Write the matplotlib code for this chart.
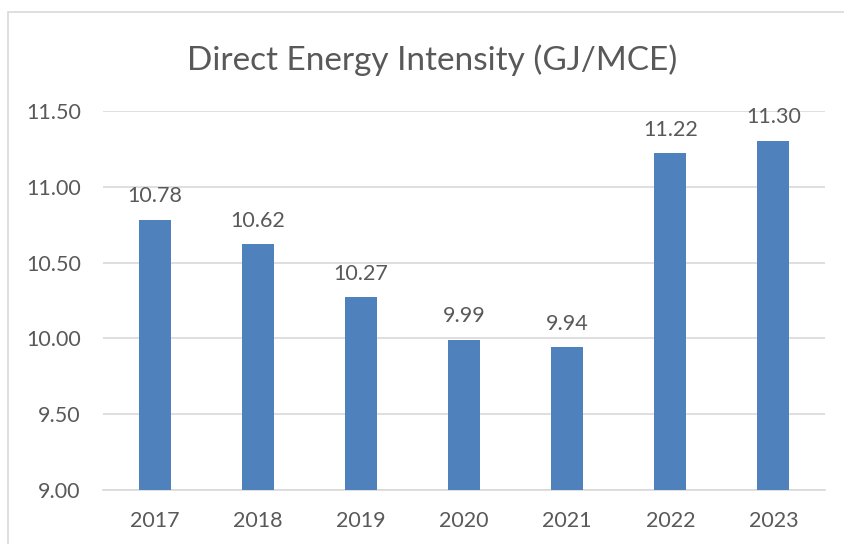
import matplotlib.pyplot as plt
from matplotlib.patches import Rectangle

years = ["2017", "2018", "2019", "2020", "2021", "2022", "2023"]
intensity = [10.78, 10.62, 10.27, 9.99, 9.94, 11.22, 11.30]
y_ticks = [9.00, 9.50, 10.00, 10.50, 11.00, 11.50]

plt.rcParams['font.family'] = ['Lato', 'DejaVu Sans']
text_color = '#595959'

fig = plt.figure(figsize=(8.45, 5.44), dpi=100)
# chart frame (cropped on the right and bottom)
fig.patches.append(Rectangle((8 / 845, -0.1), 1.0, 1 - 12.5 / 544 + 0.1,
                             transform=fig.transFigure, fill=False,
                             edgecolor='#D9D9D9', linewidth=1.2))

ax = fig.add_axes([103 / 845, 1 - 490 / 544, 722 / 845, 379 / 544])
x = range(len(years))
bars = ax.bar(x, intensity, width=0.31, color='#4F81BD', zorder=3)
for xi, v in zip(x, intensity):
    ax.annotate(f"{v:.2f}", (xi, v), xytext=(0, 10), textcoords='offset points',
                ha='center', va='bottom', fontsize=15.5, color=text_color)

ax.set_xlim(-0.5, len(years) - 0.5)
ax.set_ylim(9.0, 11.5)
ax.set_yticks(y_ticks)
ax.set_yticklabels([f"{t:.2f}" for t in y_ticks])
ax.set_xticks(list(x))
ax.set_xticklabels(years)
ax.grid(axis='y', color='#D9D9D9', linewidth=1.2, zorder=0)
for s in ['top', 'right', 'left']:
    ax.spines[s].set_visible(False)
ax.spines['bottom'].set_color('#D9D9D9')
ax.spines['bottom'].set_linewidth(1.2)
ax.tick_params(axis='both', length=0, labelsize=15.5, colors=text_color)
ax.tick_params(axis='y', pad=16)
ax.tick_params(axis='x', pad=15)

fig.text(432 / 845, 1 - 60 / 544, "Direct Energy Intensity (GJ/MCE)",
         ha='center', va='center', fontsize=24, color=text_color)

fig.savefig("out.png", dpi=100)
